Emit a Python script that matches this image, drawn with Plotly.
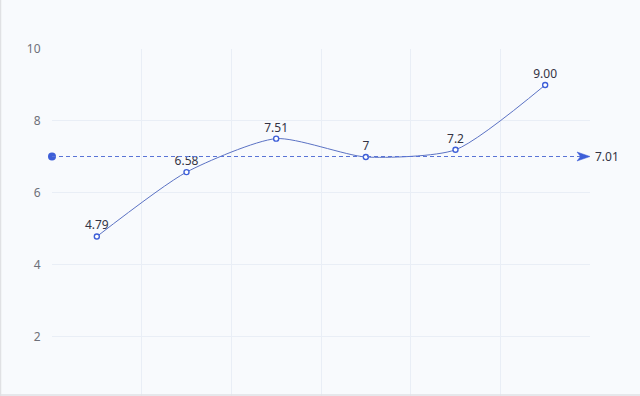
import plotly.graph_objects as go

# Data
x_pos = [0, 1, 2, 3, 4, 5]
values = [4.79, 6.58, 7.51, 7.0, 7.2, 9.00]
value_labels = ["4.79", "6.58", "7.51", "7", "7.2", "9.00"]
y_ticks = [2, 4, 6, 8, 10]
mean_val = sum(values) / len(values)
mean_label = f"{mean_val:.2f}"

BG = "#f8fafd"
GRID = "#e9eef6"
LINE = "#5b72c4"
MARK = "#3d5ed8"
FONT = "Noto Sans, Open Sans, sans-serif"

fig = go.Figure()

fig.add_trace(go.Scatter(
    x=x_pos, y=values, mode="lines+markers+text",
    text=value_labels, textposition="top center",
    textfont=dict(size=12, color="#333344", family=FONT),
    line=dict(color=LINE, width=1, shape="spline", smoothing=0.65),
    marker=dict(size=5, color="white", line=dict(color=MARK, width=1.4)),
    cliponaxis=False, showlegend=False, hoverinfo="skip",
))

# mean line start dot
fig.add_trace(go.Scatter(
    x=[x_pos[0] - 0.5], y=[mean_val], mode="markers",
    marker=dict(size=8, color=MARK), cliponaxis=False,
    showlegend=False, hoverinfo="skip",
))

fig.add_shape(type="line", xref="paper", yref="y", x0=0, x1=1,
              y0=mean_val, y1=mean_val,
              line=dict(color="#5a74d6", width=1, dash="4px,3px"), layer="above")

# arrowhead at the end of the mean line (pixel-sized, anchored at the axis end)
fig.add_shape(type="path", xref="x", yref="y",
              xsizemode="pixel", ysizemode="pixel",
              xanchor=x_pos[-1] + 0.5, yanchor=mean_val,
              path="M 0 0 L -13 4.5 L -9.5 0 L -13 -4.5 Z",
              fillcolor=MARK, line=dict(color=MARK, width=0.5), layer="above")

fig.add_annotation(x=1, xref="paper", y=mean_val, yref="y", text=mean_label,
                   showarrow=False, xanchor="left", xshift=3,
                   font=dict(size=12, color="#333344", family=FONT))

# faint frame lines (left / bottom)
fig.add_shape(type="line", xref="paper", yref="paper",
              x0=-51.5/538, x1=-51.5/538, y0=0, y1=1.2,
              line=dict(color="#e0e1e4", width=1.5))
fig.add_shape(type="line", xref="paper", yref="paper",
              x0=-52/538, x1=1.2, y0=0.003, y1=0.003,
              line=dict(color="#e0e1e4", width=1.5))

fig.update_layout(
    width=640, height=396,
    margin=dict(l=52, r=50, t=49, b=0),
    paper_bgcolor=BG, plot_bgcolor=BG,
    font=dict(family=FONT, size=12, color="#6e7079"),
    xaxis=dict(range=[-0.5, 5.5], tickmode="linear", tick0=-0.5, dtick=1,
               showticklabels=False, showgrid=True, gridcolor=GRID,
               gridwidth=1, zeroline=False, showline=False, fixedrange=True),
    yaxis=dict(range=[0.36, 10], tickvals=y_ticks, showgrid=True,
               gridcolor=GRID, gridwidth=1, zeroline=False, showline=False,
               ticks="outside", ticklen=8, tickcolor="rgba(0,0,0,0)",
               tickfont=dict(size=12, color="#6e7079", family=FONT)),
)

fig.write_html("out.html")
